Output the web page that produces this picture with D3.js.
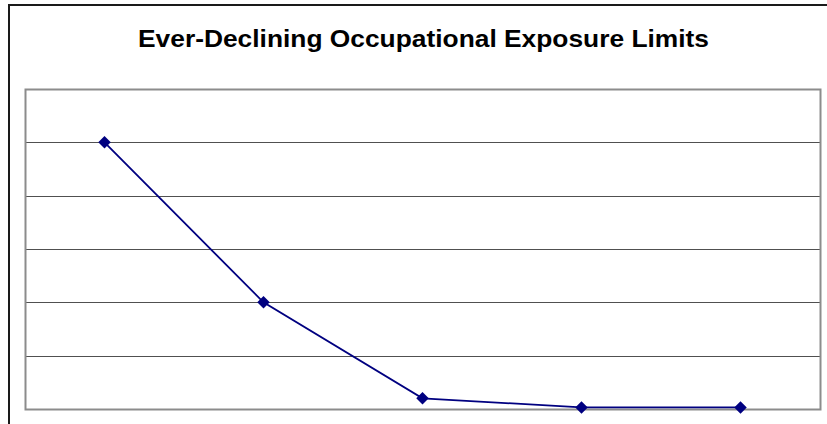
<!DOCTYPE html>
<html>
<head>
<meta charset="utf-8">
<script src="https://cdn.jsdelivr.net/npm/d3@7"></script>
<style>
  body { margin: 0; background: #fff; }
  svg { display: block; }
</style>
</head>
<body>
<div id="chart"></div>
<script>
// data (y axis has no labels, 6 gridline steps)
var categories = ["1", "2", "3", "4", "5"];
var limits = [5, 2, 0.2, 0.03, 0.03];
var yTicks = [0, 1, 2, 3, 4, 5, 6];

var W = 827, H = 424;
var plot = {left: 25, top: 89, right: 820, bottom: 409};

var svg = d3.select("#chart").append("svg")
  .attr("width", W)
  .attr("height", H);

// outer chart border (runs off the right/bottom edge)
svg.append("rect")
  .attr("x", 9).attr("y", 5)
  .attr("width", W + 10).attr("height", H + 10)
  .attr("fill", "#fff")
  .attr("stroke", "#1a1a1a")
  .attr("stroke-width", 2);

svg.append("text")
  .attr("x", 423.5)
  .attr("y", 47)
  .attr("text-anchor", "middle")
  .attr("font-family", "Liberation Sans, Arial, sans-serif")
  .attr("font-weight", "bold")
  .attr("font-size", 24)
  .attr("textLength", 571)
  .attr("lengthAdjust", "spacingAndGlyphs")
  .attr("fill", "#000")
  .text("Ever-Declining Occupational Exposure Limits");

var x = d3.scaleBand()
  .domain(categories)
  .range([plot.left, plot.right]);

var y = d3.scaleLinear()
  .domain([0, 6])
  .range([plot.bottom, plot.top]);

// gridlines
svg.append("g")
  .selectAll("line")
  .data(yTicks.slice(1, -1))
  .enter()
    .append("line")
      .attr("x1", plot.left)
      .attr("x2", plot.right)
      .attr("y1", function(d) { return Math.round(y(d)) + 0.5; })
      .attr("y2", function(d) { return Math.round(y(d)) + 0.5; })
      .attr("stroke", "#505050")
      .attr("stroke-width", 1);

// plot area border
svg.append("rect")
  .attr("x", plot.left + 0.5)
  .attr("y", plot.top + 0.5)
  .attr("width", plot.right - plot.left)
  .attr("height", plot.bottom - plot.top)
  .attr("fill", "none")
  .attr("stroke", "#8c8c8c")
  .attr("stroke-width", 2);

var line = d3.line()
  .x(function(d, i) { return x(categories[i]) + x.bandwidth() / 2; })
  .y(function(d) { return y(d); });

svg.append("path")
  .datum(limits)
  .attr("d", line)
  .attr("fill", "none")
  .attr("stroke", "#000080")
  .attr("stroke-width", 1.8);

svg.append("g")
  .selectAll("path")
  .data(limits)
  .enter()
    .append("path")
      .attr("d", d3.symbol().type(d3.symbolDiamond2).size(100))
      .attr("transform", function(d, i) {
        return "translate(" + (x(categories[i]) + x.bandwidth() / 2) + "," + y(d) + ")";
      })
      .attr("fill", "#000080");
</script>
</body>
</html>
